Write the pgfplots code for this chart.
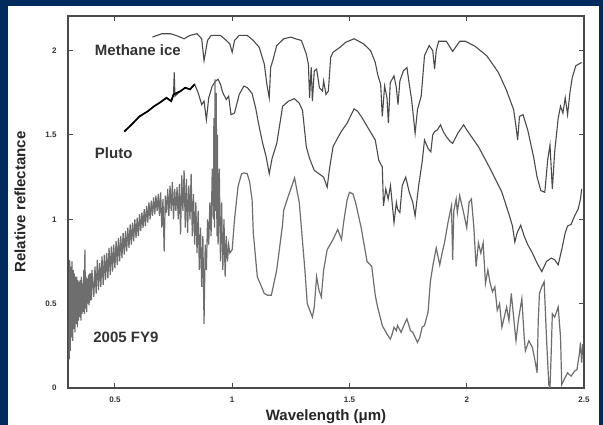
\documentclass[border=0pt]{standalone}
\usepackage{pgfplots}
\pgfplotsset{compat=1.18}
\usepackage{fontspec}
\setmainfont{Liberation Sans}
\definecolor{navybg}{HTML}{002B5C}
\definecolor{lineg}{HTML}{4A4A4A}
\definecolor{bandg}{HTML}{6E6E6E}
\begin{document}
\begin{tikzpicture}
\useasboundingbox (0pt,0pt) rectangle (603pt,425pt);
\fill[navybg] (0pt,0pt) rectangle (603pt,425pt);
\fill[white] (8pt,0pt) rectangle (599pt,419pt);
\begin{axis}[
  at={(68pt,37pt)}, anchor=south west,
  scale only axis, width=516pt, height=372pt,
  xmin=0.3, xmax=2.5, ymin=0, ymax=2.205,
  xtick={0.5,1,1.5,2,2.5}, xticklabels={0.5,1,1.5,2,2.5},
  ytick={0,0.5,1,1.5,2}, yticklabels={0,0.5,1,1.5,2},
  tick align=inside, major tick length=5pt,
  tick style={line width=0.9pt, color=lineg},
  axis line style={line width=1.6pt, color=lineg},
  /pgf/number format/assume math mode=true,
  ticklabel style={font=\fontsize{8}{9}\selectfont\bfseries, text=black!80},
  xticklabel style={yshift=-5pt},
  yticklabel style={xshift=-8pt},
  xlabel={Wavelength (μm)},
  ylabel={Relative reflectance},
  label style={font=\fontsize{15}{18}\selectfont\bfseries, text=black!85},
  xlabel style={at={(axis description cs:0.5,-0.078)}, anchor=center},
  ylabel style={at={(axis description cs:-0.093,0.5)}, anchor=center},
]
% Methane ice
\addplot[lineg, line width=1.1pt] coordinates {
(0.66,2.08)(0.70,2.10)(0.737,2.10)(0.76,2.09)(0.795,2.07)(0.82,2.09)(0.85,2.10)
(0.87,2.07)(0.88,1.94)(0.895,2.06)(0.91,2.09)(0.95,2.09)(0.975,2.06)(0.99,2.04)
(1.00,1.99)(1.01,2.06)(1.03,2.09)(1.064,2.09)(1.09,2.06)(1.115,2.02)(1.137,1.92)
(1.148,1.80)(1.158,1.72)(1.164,1.90)(1.175,1.95)(1.19,2.03)(1.22,2.07)(1.25,2.08)
(1.27,2.07)(1.295,2.06)(1.316,1.98)(1.325,1.92)(1.33,1.72)(1.337,1.90)(1.342,1.70)
(1.35,1.88)(1.36,1.89)(1.372,1.78)(1.385,1.76)(1.39,1.82)(1.40,1.74)(1.41,1.76)
(1.42,1.96)(1.43,1.99)(1.46,2.02)(1.485,2.05)(1.52,2.07)(1.56,2.04)(1.59,2.00)
(1.61,1.93)(1.62,1.86)(1.633,1.80)(1.64,1.61)(1.65,1.79)(1.66,1.72)(1.666,1.57)
(1.674,1.81)(1.69,1.85)(1.70,1.78)(1.707,1.68)(1.715,1.82)(1.73,1.88)(1.745,1.90)
(1.755,1.80)(1.765,1.71)(1.78,1.51)(1.79,1.65)(1.806,1.73)(1.82,1.97)(1.84,2.03)
(1.855,2.00)(1.863,1.89)(1.87,2.00)(1.88,2.055)(1.913,2.055)(1.94,1.995)(1.97,2.055)
(1.995,2.055)(2.036,2.025)(2.085,1.97)(2.135,1.87)(2.168,1.77)(2.20,1.65)(2.21,1.55)
(2.217,1.47)(2.225,1.61)(2.24,1.62)(2.26,1.53)(2.285,1.37)(2.30,1.25)(2.316,1.17)
(2.333,1.16)(2.345,1.35)(2.355,1.44)(2.365,1.18)(2.375,1.40)(2.39,1.60)(2.40,1.67)
(2.41,1.63)(2.42,1.72)(2.43,1.62)(2.44,1.75)(2.45,1.84)(2.465,1.91)(2.49,1.93)
};
% Pluto
\addplot[lineg, line width=1.1pt] coordinates {
(0.54,1.52)(0.57,1.56)(0.605,1.61)(0.64,1.64)(0.667,1.67)(0.69,1.69)(0.72,1.72)
(0.74,1.70)(0.75,1.74)(0.753,1.87)(0.756,1.73)(0.78,1.76)(0.80,1.78)(0.82,1.77)
(0.84,1.80)(0.855,1.75)(0.87,1.68)(0.88,1.70)(0.89,1.59)(0.90,1.72)(0.915,1.79)
(0.93,1.82)(0.94,1.83)(0.95,1.80)(0.96,1.75)(0.975,1.71)(0.985,1.73)(0.995,1.62)
(1.01,1.63)(1.03,1.74)(1.05,1.79)(1.065,1.78)(1.085,1.745)(1.10,1.66)(1.115,1.55)
(1.13,1.45)(1.145,1.37)(1.158,1.27)(1.17,1.36)(1.19,1.45)(1.205,1.58)(1.215,1.67)
(1.24,1.70)(1.265,1.715)(1.285,1.69)(1.30,1.645)(1.316,1.43)(1.33,1.36)(1.35,1.29)
(1.37,1.27)(1.39,1.25)(1.405,1.19)(1.415,1.30)(1.43,1.43)(1.445,1.47)(1.465,1.52)
(1.49,1.57)(1.52,1.655)(1.535,1.64)(1.55,1.61)(1.58,1.54)(1.61,1.47)(1.625,1.35)
(1.64,1.31)(1.645,1.08)(1.655,1.18)(1.665,1.12)(1.675,1.20)(1.69,0.98)(1.70,1.10)
(1.705,1.06)(1.715,1.04)(1.725,1.20)(1.74,1.25)(1.755,1.16)(1.77,1.10)(1.78,1.02)
(1.795,1.20)(1.81,1.34)(1.82,1.47)(1.835,1.42)(1.847,1.40)(1.855,1.50)(1.863,1.52)
(1.875,1.53)(1.888,1.56)(1.90,1.52)(1.913,1.49)(1.93,1.46)(1.94,1.45)(1.962,1.51)
(1.987,1.56)(2.00,1.53)(2.01,1.51)(2.05,1.43)(2.10,1.30)(2.15,1.16)(2.18,1.03)
(2.195,0.96)(2.205,0.865)(2.215,0.92)(2.23,0.965)(2.245,0.90)(2.26,0.85)(2.28,0.80)
(2.30,0.74)(2.32,0.69)(2.34,0.75)(2.36,0.77)(2.375,0.76)(2.39,0.73)(2.405,0.82)
(2.42,0.92)(2.43,0.96)(2.445,0.97)(2.46,1.02)(2.475,1.06)(2.485,1.12)(2.49,1.18)
};
% Pluto visible-range segment (black, thicker)
\addplot[black, line width=1.7pt] coordinates {
(0.54,1.52)(0.57,1.56)(0.605,1.61)(0.64,1.64)(0.667,1.67)(0.69,1.69)(0.72,1.72)
(0.74,1.70)(0.75,1.74)(0.78,1.76)(0.80,1.78)(0.82,1.77)(0.84,1.80)
};
% 2005 FY9
\addplot[bandg, line width=1.2pt] coordinates {
(0.305,0.17)(0.307,0.76)(0.310,0.22)(0.312,0.72)(0.315,0.30)(0.317,0.75)(0.320,0.28)
(0.322,0.70)(0.325,0.35)(0.327,0.68)(0.330,0.33)(0.332,0.66)(0.335,0.38)(0.337,0.66)
(0.340,0.36)(0.342,0.64)(0.345,0.40)(0.347,0.63)(0.350,0.42)(0.352,0.64)(0.355,0.40)
(0.357,0.66)(0.360,0.44)(0.362,0.62)(0.365,0.45)(0.367,0.70)(0.370,0.44)(0.372,0.82)
(0.375,0.47)(0.377,0.66)(0.380,0.45)(0.382,0.65)(0.385,0.50)(0.387,0.67)(0.390,0.49)
(0.392,0.68)(0.395,0.52)(0.397,0.68)(0.400,0.52)(0.402,0.70)
(0.41,0.54)(0.415,0.72)(0.42,0.56)(0.425,0.76)(0.43,0.58)(0.435,0.74)(0.44,0.60)
(0.445,0.78)(0.45,0.61)(0.455,0.79)(0.46,0.64)(0.465,0.80)(0.47,0.65)(0.475,0.83)
(0.48,0.67)(0.485,0.84)(0.49,0.69)(0.495,0.85)(0.50,0.71)(0.505,0.87)(0.51,0.73)
(0.515,0.89)(0.52,0.75)(0.525,0.90)(0.53,0.77)(0.535,0.92)(0.54,0.79)(0.545,0.93)
(0.55,0.81)(0.555,0.95)(0.56,0.83)(0.565,0.97)(0.57,0.85)(0.575,0.98)(0.58,0.87)
(0.585,1.00)(0.59,0.89)(0.595,1.01)(0.60,0.90)(0.605,1.03)(0.61,0.93)(0.615,1.04)
(0.62,0.95)(0.625,1.06)(0.63,0.96)(0.635,1.08)(0.64,0.98)(0.645,1.10)(0.65,1.00)
(0.655,1.11)(0.66,1.02)(0.665,1.13)
(0.67,1.03)(0.675,1.14)(0.68,1.05)(0.685,1.15)(0.69,1.02)(0.695,1.16)(0.70,0.95)
(0.705,1.12)(0.71,0.81)(0.715,1.14)(0.72,1.04)(0.725,1.18)(0.73,1.02)(0.735,1.20)
(0.74,1.05)(0.745,1.22)(0.75,1.00)(0.755,1.18)(0.76,1.05)(0.765,1.19)(0.77,1.00)
(0.775,1.21)(0.78,0.91)(0.785,1.26)(0.79,1.05)(0.795,1.29)(0.80,0.95)(0.805,1.24)
(0.81,0.92)(0.815,1.20)(0.82,1.00)(0.825,1.27)(0.83,0.90)(0.835,1.15)(0.84,0.85)
(0.845,1.10)(0.85,0.80)(0.855,1.05)(0.86,0.70)(0.865,0.95)(0.87,0.60)(0.875,0.90)
(0.88,0.38)(0.885,0.85)(0.89,0.70)(0.895,1.00)(0.90,0.85)(0.905,1.10)(0.91,0.90)
(0.915,1.30)(0.92,1.00)(0.922,1.60)(0.925,0.95)(0.927,1.83)(0.93,1.05)(0.932,1.75)
(0.935,0.90)(0.937,1.50)(0.94,0.85)(0.945,1.30)(0.95,0.75)(0.955,1.10)(0.96,0.70)
(0.965,1.00)(0.97,0.66)(0.975,0.90)(0.98,0.75)(0.985,0.85)(0.99,0.80)(1.00,0.82)
(1.01,1.00)(1.025,1.195)(1.04,1.27)(1.05,1.275)(1.064,1.27)(1.074,1.225)(1.085,1.115)
(1.09,0.92)(1.107,0.66)(1.137,0.56)(1.15,0.55)(1.167,0.55)(1.19,0.70)(1.214,0.96)
(1.22,1.056)(1.24,1.14)(1.266,1.245)(1.286,1.10)(1.31,0.70)(1.32,0.50)(1.342,0.42)
(1.35,0.48)(1.36,0.66)(1.37,0.58)(1.38,0.54)(1.39,0.70)(1.405,0.82)(1.43,0.88)
(1.45,0.94)(1.466,0.88)(1.475,0.98)(1.49,1.115)(1.50,1.16)(1.515,1.15)(1.526,1.10)
(1.55,0.95)(1.575,0.75)(1.595,0.72)(1.61,0.55)(1.62,0.48)(1.64,0.37)(1.66,0.32)
(1.674,0.29)(1.68,0.31)(1.69,0.36)(1.70,0.34)(1.705,0.37)(1.72,0.33)(1.735,0.38)
(1.745,0.41)(1.76,0.34)(1.77,0.33)(1.79,0.27)(1.80,0.30)(1.81,0.36)(1.82,0.37)
(1.835,0.45)(1.845,0.63)(1.855,0.72)(1.87,0.83)(1.885,0.73)(1.895,0.80)(1.905,0.86)
(1.92,0.98)(1.935,1.08)(1.94,0.76)(1.945,1.05)(1.955,1.12)(1.96,1.04)(1.97,1.14)
(1.985,1.05)(2.0,0.95)(2.01,1.10)(2.02,1.12)(2.03,0.96)(2.04,0.72)(2.05,0.86)
(2.06,0.80)(2.07,0.86)(2.08,0.62)(2.09,0.70)(2.10,0.62)(2.11,0.57)(2.12,0.60)
(2.13,0.46)(2.14,0.50)(2.15,0.36)(2.16,0.42)(2.17,0.48)(2.18,0.40)(2.19,0.56)
(2.20,0.42)(2.21,0.28)(2.22,0.40)(2.235,0.53)(2.245,0.30)(2.25,0.22)(2.265,0.28)
(2.28,0.24)(2.29,0.17)(2.30,0.09)(2.305,0.40)(2.31,0.56)(2.32,0.60)(2.33,0.63)
(2.34,0.30)(2.35,0.02)(2.355,0.0)(2.36,0.20)(2.365,0.44)(2.375,0.42)(2.39,0.48)
(2.40,0.30)(2.405,0.02)(2.415,0.05)(2.43,0.09)(2.445,0.07)(2.46,0.10)(2.47,0.11)
(2.48,0.20)(2.485,0.27)(2.49,0.15)(2.495,0.26)
};
\node[anchor=west, font=\fontsize{15}{18}\selectfont\bfseries, text=black!80] at (axis cs:0.40,2.0) {Methane ice};
\node[anchor=west, font=\fontsize{15}{18}\selectfont\bfseries, text=black!80] at (axis cs:0.40,1.395) {Pluto};
\node[anchor=west, font=\fontsize{15}{18}\selectfont\bfseries, text=black!80] at (axis cs:0.393,0.30) {2005 FY9};
\end{axis}
\end{tikzpicture}
\end{document}
